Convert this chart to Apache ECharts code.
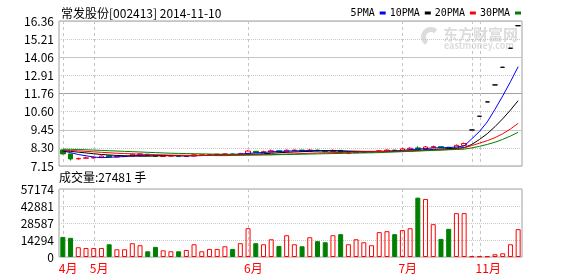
<!DOCTYPE html>
<html><head><meta charset="utf-8">
<script src="https://cdn.jsdelivr.net/npm/echarts@6/dist/echarts.min.js"></script>
<style>html,body{margin:0;padding:0;background:#fff;}#c{width:578px;height:276px;}</style>
</head><body><div id="c"></div>
<script>
// month of each trading bar (60 bars)
const months = ['4月','4月','4月','4月',
  '5月','5月','5月','5月','5月','5月','5月','5月','5月','5月','5月','5月','5月','5月','5月','5月','5月','5月','5月','5月',
  '6月','6月','6月','6月','6月','6月','6月','6月','6月','6月','6月','6月','6月','6月','6月','6月','6月','6月','6月','6月',
  '7月','7月','7月','7月','7月','7月','7月','7月','7月',
  '10月',
  '11月','11月','11月','11月','11月','11月'];
const open  = [8.17,7.92,7.60,7.64,7.66,7.70,7.80,7.72,7.75,7.78,7.88,7.90,7.82,7.76,7.78,7.80,7.75,7.78,7.84,7.85,7.87,7.89,7.92,7.88,7.95,8.08,8.00,8.04,8.12,8.05,8.12,8.16,8.10,8.16,8.12,8.08,8.14,7.96,8.00,8.02,8.04,8.05,8.10,8.16,8.10,8.22,8.30,8.20,8.34,8.38,8.34,8.28,8.46,9.44,10.31,11.22,12.30,13.42,14.63,16.06];
const close = [7.92,7.60,7.63,7.67,7.70,7.78,7.72,7.76,7.78,7.90,7.92,7.82,7.76,7.79,7.80,7.75,7.78,7.86,7.86,7.88,7.90,7.92,7.88,7.95,8.10,8.00,8.06,8.12,8.05,8.15,8.16,8.10,8.16,8.12,8.08,8.14,7.98,8.02,8.04,8.05,8.06,8.12,8.16,8.10,8.24,8.28,8.20,8.36,8.38,8.32,8.28,8.46,8.58,9.44,10.31,11.22,12.30,13.42,14.63,16.06];
const high  = [8.20,7.93,7.68,7.74,7.75,7.82,7.82,7.79,7.80,7.95,7.96,7.92,7.84,7.82,7.83,7.81,7.80,7.90,7.88,7.90,7.92,7.96,7.94,7.98,8.16,8.10,8.12,8.20,8.14,8.20,8.20,8.18,8.22,8.18,8.14,8.20,8.16,8.06,8.06,8.08,8.08,8.16,8.20,8.18,8.30,8.34,8.40,8.42,8.44,8.40,8.36,8.52,8.64,9.44,10.31,11.22,12.30,13.42,14.63,16.06];
const low   = [7.88,7.50,7.56,7.60,7.63,7.66,7.70,7.70,7.72,7.76,7.84,7.80,7.74,7.72,7.74,7.72,7.73,7.76,7.82,7.83,7.85,7.86,7.86,7.86,7.92,7.98,7.98,8.02,8.02,8.03,8.10,8.06,8.08,8.08,8.00,8.06,7.92,7.90,7.98,8.00,8.02,8.04,8.08,8.06,8.08,8.20,8.18,8.18,8.30,8.28,8.24,8.26,8.44,9.44,10.31,11.22,12.30,13.42,14.63,16.06];
const volume = [16900,16100,8200,7600,7600,7600,10700,6500,6500,11600,9900,4800,8500,5600,4800,4800,5900,10700,4800,6800,6800,9000,6800,11600,24200,11600,10700,14900,9300,18300,10700,9000,16600,13300,12400,18300,19200,10700,14900,12400,9900,20900,21700,19200,22600,24200,49900,48800,27600,15200,23700,36900,36900,600,600,600,2300,3100,10700,23400];
const ma5  = [8.10,8.00,7.88,7.80,7.72,7.68,7.70,7.73,7.75,7.79,7.82,7.84,7.84,7.83,7.81,7.79,7.78,7.80,7.81,7.83,7.86,7.88,7.89,7.91,7.95,7.98,8.01,8.05,8.07,8.10,8.11,8.12,8.13,8.13,8.12,8.12,8.10,8.07,8.05,8.03,8.04,8.06,8.09,8.11,8.14,8.19,8.22,8.26,8.30,8.31,8.32,8.36,8.42,8.88,9.35,9.95,10.75,11.60,12.50,13.46];
const ma10 = [8.12,8.08,8.03,7.98,7.93,7.88,7.85,7.82,7.80,7.79,7.77,7.77,7.79,7.80,7.81,7.82,7.82,7.82,7.82,7.82,7.83,7.84,7.85,7.86,7.88,7.90,7.93,7.96,7.99,8.02,8.04,8.06,8.08,8.10,8.11,8.11,8.11,8.10,8.09,8.08,8.08,8.08,8.08,8.08,8.09,8.11,8.14,8.17,8.20,8.22,8.25,8.28,8.32,8.52,8.84,9.20,9.65,10.15,10.70,11.30];
const ma20 = [8.15,8.13,8.11,8.08,8.05,8.02,7.99,7.96,7.94,7.92,7.90,7.88,7.86,7.85,7.84,7.83,7.82,7.82,7.82,7.82,7.81,7.81,7.82,7.83,7.84,7.85,7.86,7.87,7.89,7.91,7.92,7.94,7.96,7.98,7.99,8.00,8.01,8.02,8.04,8.05,8.06,8.07,8.08,8.09,8.10,8.11,8.12,8.14,8.16,8.18,8.20,8.22,8.30,8.45,8.60,8.76,8.95,9.20,9.50,9.86];
const ma30 = [8.22,8.21,8.20,8.18,8.16,8.14,8.12,8.10,8.08,8.06,8.04,8.02,8.00,7.98,7.96,7.95,7.94,7.93,7.92,7.91,7.90,7.89,7.88,7.87,7.86,7.86,7.86,7.86,7.87,7.88,7.89,7.90,7.91,7.92,7.93,7.94,7.95,7.96,7.97,7.98,7.99,8.00,8.02,8.04,8.06,8.08,8.10,8.12,8.14,8.16,8.18,8.20,8.22,8.30,8.40,8.52,8.66,8.84,9.05,9.29];
const priceTicks = ['7.15','8.30','9.45','10.60','11.76','12.91','14.06','15.21','16.36'];
const volTicks = ['0','14294','28587','42881','57174'];
const maNames = ['5PMA','10PMA','20PMA','30PMA'];
const stockTitle = '常发股份[002413] 2014-11-10';
const volTitle = '成交量:27481 手';

const FONT = '"Noto Sans CJK SC", sans-serif';
const MONO = '"DejaVu Sans Mono", monospace';
const pMin = +priceTicks[0], pMax = +priceTicks[priceTicks.length - 1];
const pInt = (pMax - pMin) / (priceTicks.length - 1);
const vMax = +volTicks[volTicks.length - 1], vInt = vMax / (volTicks.length - 1);
const monthStarts = months.map((m, i) => (i === 0 || m !== months[i - 1]) ? i : -1).filter(i => i >= 0);
const candleData = open.map((o, i) => [o, close[i], low[i], high[i]]);
const volData = volume.map((v, i) => {
  const up = close[i] >= open[i];
  return { value: v, itemStyle: up ? { color: 'transparent', borderColor: '#ff0000', borderWidth: 1 }
                                    : { color: '#008000', borderColor: '#008000', borderWidth: 1 } };
});
// vertical dashed month lines drawn at bar centres through the axis scale
function monthLineSeries(xi, yi, yVal) {
  return {
    type: 'custom', xAxisIndex: xi, yAxisIndex: yi, z: 1, silent: true,
    data: monthStarts.map(i => [i, yVal]),
    renderItem: (params, api) => {
      const x = Math.round(api.coord([api.value(0), api.value(1)])[0]) + 0.5;
      const r = params.coordSys;
      return { type: 'line', shape: { x1: x, y1: r.y, x2: x, y2: r.y + r.height },
               style: { stroke: '#c4c4c4', lineWidth: 1, lineDash: [3, 3] } };
    }
  };
}
const maColors = ['#0000ff', '#000000', '#ff0000', '#008000'];
const maData = [ma5, ma10, ma20, ma30];

const chart = echarts.init(document.getElementById('c'), null, { renderer: 'canvas' });
chart.setOption({
  animation: false,
  backgroundColor: '#fff',
  title: [
    { text: stockTitle, left: 61, top: 7, padding: 0, textStyle: { fontSize: 12, fontWeight: 'normal', color: '#000', fontFamily: FONT } },
    { text: volTitle, left: 59, top: 171, padding: 0, textStyle: { fontSize: 12, fontWeight: 'normal', color: '#000', fontFamily: FONT } }
  ],
  legend: {
    data: maNames, right: 57, top: 8, padding: 0, align: 'right', icon: 'rect',
    itemWidth: 6, itemHeight: 3, itemGap: 4, selectedMode: false,
    textStyle: { fontSize: 10, color: '#000', fontFamily: MONO }
  },
  graphic: [
    { type: 'sector', shape: { cx: 431, cy: 37, r: 10, r0: 5, startAngle: 2.2, endAngle: 5.4 }, style: { fill: '#dcdcdc' } },
    { type: 'text', left: 443, top: 27, style: { text: '东方财富网', font: 'bold 15px ' + FONT, fill: '#dcdcdc' } },
    { type: 'text', left: 444, top: 41, style: { text: 'eastmoney.com', font: 'bold 9px ' + FONT, fill: '#dcdcdc' } }
  ],
  grid: [
    { left: 59, top: 21, width: 463, height: 145, show: true, borderColor: '#a0a0a0', borderWidth: 1 },
    { left: 59, top: 189, width: 463, height: 68, show: true, borderColor: '#a0a0a0', borderWidth: 1 }
  ],
  xAxis: [
    { type: 'category', gridIndex: 0, data: months, boundaryGap: true,
      axisLine: { show: false }, axisTick: { show: false }, axisLabel: { show: false }, splitLine: { show: false } },
    { type: 'category', gridIndex: 1, data: months, boundaryGap: true,
      axisLine: { show: false }, axisTick: { show: false }, splitLine: { show: false },
      axisLabel: { interval: 0, color: '#ff0000', fontSize: 12, fontFamily: FONT, align: 'left', margin: 5,
        padding: [0, 0, 0, -4],
        formatter: (v, i) => (monthStarts.includes(i) && months[i + 1] === v) ? v : '' } }
  ],
  yAxis: [
    { type: 'value', gridIndex: 0, min: pMin, max: pMax, interval: pInt,
      axisLine: { show: false }, axisTick: { show: false },
      axisLabel: { color: '#000', fontSize: 12, fontFamily: FONT, margin: 5,
        formatter: v => priceTicks[Math.round((v - pMin) / pInt)] },
      splitLine: { show: true, lineStyle: { color: '#c8c8c8', type: [1, 1] } } },
    { type: 'value', gridIndex: 0, min: pMin, max: pMax, interval: pInt * 2, position: 'left',
      axisLine: { show: false }, axisTick: { show: false }, axisLabel: { show: false },
      splitLine: { show: true, lineStyle: { color: ['#c4c4c4', '#c4c4c4', '#a0a0a0', '#c4c4c4', '#c4c4c4'], type: 'solid' } } },
    { type: 'value', gridIndex: 1, min: 0, max: vMax, interval: vInt,
      axisLine: { show: false }, axisTick: { show: false },
      axisLabel: { color: '#000', fontSize: 12, fontFamily: FONT, margin: 5,
        formatter: v => volTicks[Math.round(v / vInt)] },
      splitLine: { show: true, lineStyle: { color: '#c8c8c8', type: [1, 1] } } }
  ],
  series: [
    monthLineSeries(0, 0, pMin),
    monthLineSeries(1, 2, 0),
    { type: 'candlestick', name: 'K', xAxisIndex: 0, yAxisIndex: 0, data: candleData, barWidth: 5, z: 3,
      itemStyle: { color: 'transparent', color0: '#008000', borderColor: '#ff0000', borderColor0: '#008000',
                   borderColorDoji: '#000000', borderWidth: 1 } },
    ...maNames.map((n, k) => ({
      type: 'line', name: n, xAxisIndex: 0, yAxisIndex: 0, data: maData[k], color: maColors[k],
      showSymbol: false, symbol: 'none', z: 4, lineStyle: { width: 1, color: maColors[k] }
    })),
    { type: 'bar', name: 'VOL', xAxisIndex: 1, yAxisIndex: 2, data: volData, barWidth: 5, z: 3 }
  ]
});
</script></body></html>
